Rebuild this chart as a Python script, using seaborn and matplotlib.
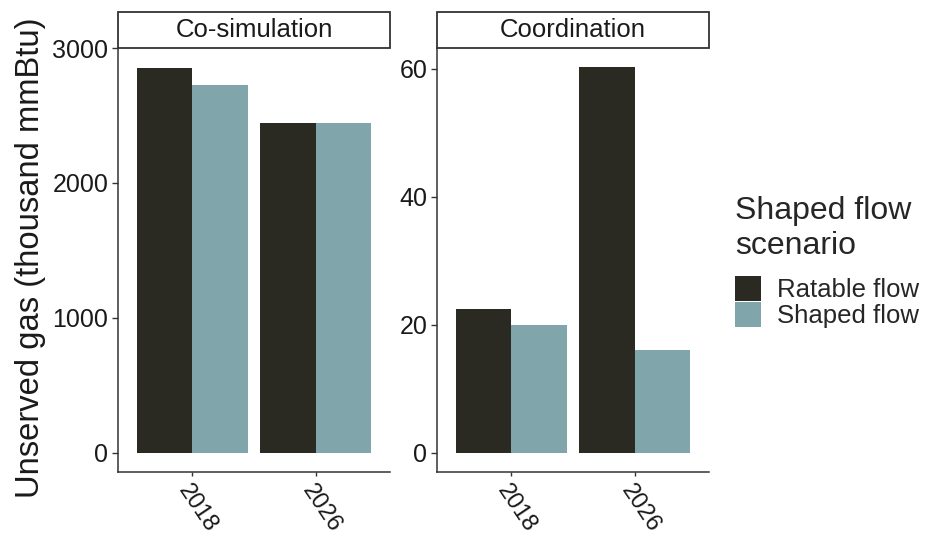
import matplotlib
matplotlib.use("Agg")
import matplotlib.pyplot as plt
import seaborn as sns
import pandas as pd
from matplotlib.patches import Patch, Rectangle

sns.set_style("white")
plt.rcParams['font.family'] = ['Liberation Sans', 'DejaVu Sans']

years = ["2018", "2026"]
scenarios = ["Ratable flow", "Shaped flow"]
panels = ["Co-simulation", "Coordination"]
cosim_ratable = [2855, 2446]
cosim_shaped = [2729, 2442]
coord_ratable = [22.4, 60.2]
coord_shaped = [19.9, 16.0]
colors = ["#2a2922", "#80a5aa"]

values = {
    "Co-simulation": (cosim_ratable, cosim_shaped),
    "Coordination": (coord_ratable, coord_shaped),
}
yticks = {"Co-simulation": [0, 1000, 2000, 3000], "Coordination": [0, 20, 40, 60]}

fig = plt.figure(figsize=(9.38, 5.38), dpi=100)
W, H = 938, 538
boxes = [(118, 390), (437, 709)]
top, bottom = 48, 472
strip_top = 12

for (x0, x1), panel in zip(boxes, panels):
    ax = fig.add_axes([x0 / W, 1 - bottom / H, (x1 - x0) / W, (bottom - top) / H])
    r, s = values[panel]
    df = pd.DataFrame({
        "year": years * 2,
        "value": list(r) + list(s),
        "scenario": [scenarios[0]] * 2 + [scenarios[1]] * 2,
    })
    sns.barplot(data=df, x="year", y="value", hue="scenario", hue_order=scenarios,
                palette=colors, width=0.9, saturation=1, linewidth=0, ax=ax,
                legend=False, errorbar=None)
    mx = max(max(r), max(s))
    ax.set_ylim(-0.05 * mx, 1.05 * mx)
    ax.set_xlim(-0.6, 1.6)
    ax.set_yticks(yticks[panel])
    ax.set_xlabel("")
    ax.set_ylabel("")
    for sp in ["top", "right"]:
        ax.spines[sp].set_visible(False)
    for sp in ["left", "bottom"]:
        ax.spines[sp].set_color("#333333")
        ax.spines[sp].set_linewidth(1.1)
    ax.tick_params(axis="y", length=4.5, width=1.0, color="#333333",
                   labelsize=18, labelcolor="#1a1a1a", left=True, pad=2.6)
    ax.tick_params(axis="x", length=3, width=1.0, color="#333333",
                   labelsize=17, labelcolor="#1a1a1a", bottom=True, pad=3.2)
    for lab in ax.get_xticklabels():
        lab.set_rotation(-56)
        lab.set_ha("left")
        lab.set_va("top")
        lab.set_rotation_mode("anchor")
    # strip
    rect = Rectangle((x0 / W, 1 - top / H), (x1 - x0) / W, (top - strip_top) / H,
                     transform=fig.transFigure, facecolor="white", edgecolor="#333333",
                     linewidth=1.3, clip_on=False)
    fig.add_artist(rect)
    fig.text((x0 + x1) / 2 / W, 1 - (top + strip_top) / 2 / H, panel,
             ha="center", va="center", fontsize=18.5, color="#1a1a1a")

fig.text(31 / W, 1 - 258 / H, "Unserved gas (thousand mmBtu)", rotation=90,
         ha="center", va="center", fontsize=23.6, color="#1a1a1a")

handles = [Patch(facecolor=c, edgecolor="none") for c in colors]
leg = fig.legend(handles, scenarios, title="Shaped flow\nscenario",
                 loc="upper left", bbox_to_anchor=(735 / W, 1 - 196 / H),
                 frameon=False, fontsize=18.5, title_fontsize=23,
                 handlelength=1.0, handleheight=1.1, handletextpad=0.65,
                 labelspacing=0.0, borderpad=0, borderaxespad=0)
leg._legend_box.align = "left"
leg._legend_box.sep = 11

fig.savefig("out.png", dpi=100)
